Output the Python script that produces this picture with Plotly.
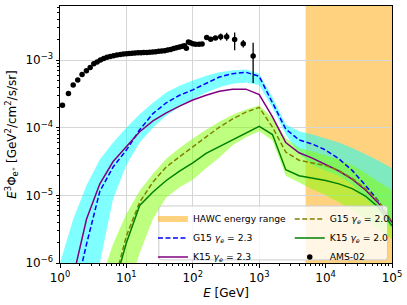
import plotly.graph_objects as go

# ---------------- data ----------------
energy = [1.0, 1.585, 2.512, 3.981, 6.31, 10.0, 15.85, 25.12, 39.81, 63.1,
          100.0, 158.5, 251.2, 398.1, 631.0, 1000.0, 1585.0, 2512.0, 3981.0, 6310.0,
          10000.0, 15850.0, 25120.0, 39810.0, 63100.0, 100000.0]

g15_23 = [2.5e-8, 2.69e-7, 1.91e-6, 1.15e-5, 2.63e-5, 4.68e-5, 9.33e-5, 1.62e-4, 2.34e-4, 3.02e-4,
          3.63e-4, 4.57e-4, 5.62e-4, 6.31e-4, 6.61e-4, 5.75e-4, 2.40e-4, 9.55e-5, 6.61e-5, 5.75e-5,
          4.68e-5, 3.47e-5, 2.34e-5, 1.41e-5, 8.13e-6, 3.98e-6]
k15_23 = [1.0e-7, 6.31e-7, 4.47e-6, 1.48e-5, 3.16e-5, 5.25e-5, 8.71e-5, 1.26e-4, 1.66e-4, 2.09e-4,
          2.57e-4, 3.02e-4, 3.47e-4, 3.72e-4, 3.72e-4, 3.09e-4, 1.45e-4, 6.03e-5, 4.27e-5, 3.55e-5,
          2.88e-5, 2.29e-5, 1.74e-5, 1.20e-5, 7.59e-6, 3.98e-6]
g15_20 = [1.0e-9, 3.16e-9, 1.58e-8, 7.94e-8, 4.47e-7, 2.51e-6, 7.94e-6, 1.58e-5, 2.63e-5, 3.72e-5,
          5.25e-5, 7.41e-5, 1.02e-4, 1.35e-4, 1.70e-4, 2.00e-4, 1.02e-4, 4.37e-5, 3.31e-5, 3.02e-5,
          2.75e-5, 2.34e-5, 1.78e-5, 1.26e-5, 8.13e-6, 3.98e-6]
k15_20 = [3.16e-10, 1.26e-9, 7.94e-9, 6.31e-8, 3.98e-7, 2.00e-6, 7.08e-6, 1.12e-5, 1.66e-5, 2.29e-5,
          3.02e-5, 4.17e-5, 5.25e-5, 6.76e-5, 8.51e-5, 1.05e-4, 7.94e-5, 2.40e-5, 1.95e-5, 1.82e-5,
          1.66e-5, 1.48e-5, 1.26e-5, 9.77e-6, 6.61e-6, 3.55e-6]

band23_hi = [1.0e-6, 4.47e-6, 1.41e-5, 3.39e-5, 6.03e-5, 1.00e-4, 1.58e-4, 2.34e-4, 3.31e-4, 4.17e-4,
             5.01e-4, 5.89e-4, 6.61e-4, 7.08e-4, 7.24e-4, 6.31e-4, 2.82e-4, 1.12e-4, 8.91e-5, 7.94e-5,
             6.92e-5, 6.03e-5, 5.01e-5, 4.07e-5, 3.24e-5, 2.51e-5]
band23_lo = [1.0e-8, 5.01e-8, 2.51e-7, 1.0e-6, 8.91e-6, 2.82e-5, 6.03e-5, 1.0e-4, 1.51e-4, 2.04e-4,
             2.63e-4, 3.31e-4, 3.98e-4, 4.47e-4, 4.68e-4, 4.27e-4, 2.00e-4, 7.94e-5, 4.17e-5, 2.82e-5,
             2.34e-5, 1.95e-5, 1.45e-5, 9.12e-6, 5.75e-6, 3.16e-6]
band20_hi = [3.16e-9, 1.58e-8, 1.0e-7, 5.01e-7, 1.91e-6, 5.37e-6, 1.17e-5, 2.09e-5, 3.47e-5, 5.01e-5,
             6.92e-5, 9.33e-5, 1.23e-4, 1.55e-4, 1.86e-4, 2.14e-4, 1.41e-4, 7.08e-5, 5.01e-5, 4.47e-5,
             3.89e-5, 3.39e-5, 2.82e-5, 2.14e-5, 1.58e-5, 1.20e-5]
band20_lo = [1.0e-10, 1.0e-10, 1.0e-10, 1.0e-9, 3.16e-8, 3.16e-7, 1.41e-6, 4.47e-6, 9.33e-6, 1.32e-5,
             1.70e-5, 2.51e-5, 3.63e-5, 5.50e-5, 7.24e-5, 8.91e-5, 6.46e-5, 1.95e-5, 1.55e-5, 1.23e-5,
             1.0e-5, 7.94e-6, 6.03e-6, 4.37e-6, 3.16e-6, 2.24e-6]

ams_e = [1.09, 1.34, 1.58, 1.85, 2.15, 2.5, 2.85, 3.23, 3.62, 4.06, 4.56, 5.1, 5.7, 6.4, 7.2, 8.1,
         9.0, 10.0, 11.0, 12.2, 13.5, 15.0, 16.6, 18.3, 20.3, 22.5, 25.0, 27.7, 30.7, 34.0, 37.7,
         41.8, 46.3, 51.4, 57.0, 63.2, 70.0, 75.0, 80.0, 86.0, 92.0, 100.0, 110.0, 124.0, 138.0,
         162.0, 186.0, 219.0, 263.0, 324.0, 427.0, 575.0, 810.0]
ams_flux = [2.15e-4, 3.2e-4, 4.3e-4, 5.1e-4, 6.15e-4, 6.95e-4, 7.8e-4, 8.8e-4, 9.4e-4, 1.0e-3,
            1.06e-3, 1.10e-3, 1.13e-3, 1.16e-3, 1.19e-3, 1.21e-3, 1.23e-3, 1.24e-3, 1.25e-3,
            1.26e-3, 1.27e-3, 1.28e-3, 1.29e-3, 1.30e-3, 1.30e-3, 1.31e-3, 1.32e-3, 1.33e-3,
            1.35e-3, 1.36e-3, 1.38e-3, 1.41e-3, 1.44e-3, 1.48e-3, 1.52e-3, 1.56e-3, 1.60e-3,
            1.63e-3, 1.50e-3, 1.85e-3, 1.80e-3, 1.75e-3, 1.72e-3, 1.72e-3, 1.73e-3, 2.16e-3,
            2.04e-3, 2.13e-3, 2.21e-3, 2.21e-3, 2.02e-3, 1.74e-3, 1.15e-3]
ams_err_up = [0.0] * 41 + [0.04e-3, 0.04e-3, 0.05e-3, 0.05e-3, 0.08e-3, 0.09e-3, 0.12e-3,
                           0.27e-3, 0.32e-3, 0.55e-3, 0.25e-3, 0.65e-3]
ams_err_dn = [0.0] * 41 + [0.04e-3, 0.04e-3, 0.05e-3, 0.05e-3, 0.08e-3, 0.09e-3, 0.12e-3,
                           0.24e-3, 0.28e-3, 0.62e-3, 0.20e-3, 0.69e-3]

hawc_range = [5.0e3, 1.0e5]

x_tick_vals = [1, 10, 100, 1000, 10000, 100000]
x_tick_text = ["10<sup>0</sup>", "10<sup>1</sup>", "10<sup>2</sup>", "10<sup>3</sup>",
               "10<sup>4</sup>", "10<sup>5</sup>"]
y_tick_vals = [1e-6, 1e-5, 1e-4, 1e-3]
y_tick_text = ["10<sup>\u22126</sup>", "10<sup>\u22125</sup>", "10<sup>\u22124</sup>",
               "10<sup>\u22123</sup>"]

# ---------------- figure ----------------
FONT = "DejaVu Sans"
fig = go.Figure()


def band(hi, lo, color):
    return go.Scatter(x=energy + energy[::-1], y=hi + lo[::-1], mode="none",
                      fill="toself", fillcolor=color, showlegend=False, hoverinfo="skip")


fig.add_trace(band(band23_hi, band23_lo, "rgba(0,255,255,0.5)"))
fig.add_trace(band(band20_hi, band20_lo, "rgba(127,255,0,0.5)"))

fig.add_trace(go.Scatter(x=[None], y=[None], mode="none", fill="toself",
                         fillcolor="rgba(255,165,0,0.5)", name="HAWC energy range",
                         legend="legend", legendrank=1))
fig.add_trace(go.Scatter(x=energy, y=g15_23, mode="lines",
                         line=dict(color="blue", width=1.5, dash="5px,2.5px"),
                         name="G15 <i>\u03b3<sub>e</sub></i> = 2.3", legend="legend", legendrank=2))
fig.add_trace(go.Scatter(x=energy, y=k15_23, mode="lines",
                         line=dict(color="purple", width=1.5),
                         name="K15 <i>\u03b3<sub>e</sub></i> = 2.3", legend="legend", legendrank=3))
fig.add_trace(go.Scatter(x=energy, y=g15_20, mode="lines",
                         line=dict(color="olive", width=1.5, dash="5px,2.5px"),
                         name="G15 <i>\u03b3<sub>e</sub></i> = 2.0", legend="legend2", legendrank=1))
fig.add_trace(go.Scatter(x=energy, y=k15_20, mode="lines",
                         line=dict(color="green", width=1.5),
                         name="K15 <i>\u03b3<sub>e</sub></i> = 2.0", legend="legend2", legendrank=2))
fig.add_trace(go.Scatter(x=ams_e, y=ams_flux, mode="markers",
                         marker=dict(color="black", size=5.5),
                         error_y=dict(type="data", symmetric=False, array=ams_err_up,
                                      arrayminus=ams_err_dn, color="black", thickness=1.3, width=0),
                         name="AMS-02", legend="legend2", legendrank=3))

fig.add_vrect(x0=hawc_range[0], x1=hawc_range[1], fillcolor="orange", opacity=0.5,
              line_width=0, layer="below")

# legend background box (rounded)
x0, x1, y0, y1 = 0.2977, 0.9865, 0.012, 0.222
rx, ry = 3 / 332.5, 3 / 257.3
path = (f"M{x0+rx},{y0} L{x1-rx},{y0} Q{x1},{y0} {x1},{y0+ry} L{x1},{y1-ry} "
        f"Q{x1},{y1} {x1-rx},{y1} L{x0+rx},{y1} Q{x0},{y1} {x0},{y1-ry} "
        f"L{x0},{y0+ry} Q{x0},{y0} {x0+rx},{y0} Z")
fig.add_shape(type="path", path=path, xref="paper", yref="paper",
              fillcolor="rgba(255,255,255,0.8)", line=dict(color="#cccccc", width=1),
              layer="above")

axis_common = dict(showline=True, linecolor="black", linewidth=1, mirror=True,
                   ticks="outside", ticklen=3.5, tickwidth=0.8, tickcolor="black",
                   showgrid=True, gridcolor="#d6d6d6", gridwidth=1,
                   tickfont=dict(family=FONT, size=12, color="black"),
                   zeroline=False, automargin=False)

minor_x = [m * 10 ** k for k in range(0, 5) for m in range(2, 10)]
minor_y = [m * 10 ** k for k in range(-6, -2) for m in range(2, 10)]

fig.update_xaxes(type="log", range=[0, 5], tickmode="array", tickvals=x_tick_vals,
                 ticktext=x_tick_text,
                 minor=dict(tickmode="array", tickvals=minor_x, ticks="outside", ticklen=2,
                            tickwidth=0.6, tickcolor="black", showgrid=False),
                 title=dict(text="<i>E</i> [GeV]", font=dict(family=FONT, size=12, color="black"),
                            standoff=4),
                 **axis_common)
fig.update_yaxes(type="log", range=[-6, -2.2], tickmode="array", tickvals=y_tick_vals,
                 ticktext=y_tick_text,
                 minor=dict(tickmode="array", tickvals=minor_y, ticks="outside", ticklen=2,
                            tickwidth=0.6, tickcolor="black", showgrid=False),
                 title=dict(text="<i>E</i><sup>3</sup>\u03a6<sub>e\u207a</sub> [GeV<sup>2</sup>/cm<sup>2</sup>/s/sr]",
                            font=dict(family=FONT, size=12, color="black"), standoff=6),
                 **axis_common)

legend_common = dict(bgcolor="rgba(0,0,0,0)", borderwidth=0, itemwidth=30,
                     font=dict(family=FONT, size=9.2, color="black"),
                     xanchor="left", yanchor="top", traceorder="normal")
fig.update_layout(
    width=407, height=305,
    margin=dict(l=60, r=15, t=6, b=42, autoexpand=False),
    paper_bgcolor="white", plot_bgcolor="white",
    font=dict(family=FONT, size=12, color="black"),
    legend=dict(x=0.28, y=0.228, **legend_common),
    legend2=dict(x=0.692, y=0.228, **legend_common),
)

fig.write_html("out.html", config={"displayModeBar": False},
               post_script="document.body.style.margin='0';document.body.style.padding='0';")
